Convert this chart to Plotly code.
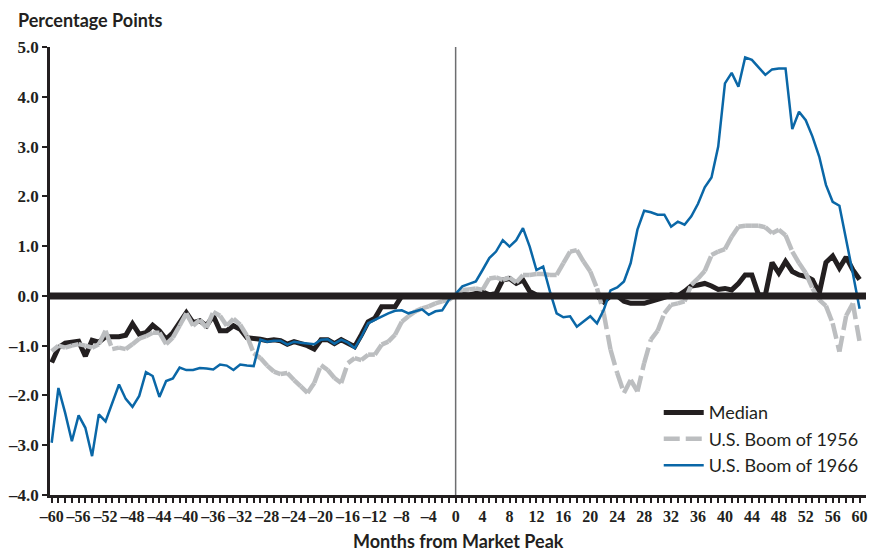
import plotly.graph_objects as go

months = list(range(-60, 61))

median = [
    -1.34, -1.04, -0.95, -0.93, -0.91, -1.21, -0.89, -0.93, -0.82, -0.82,
    -0.82, -0.79, -0.56, -0.77, -0.74, -0.59, -0.70, -0.87, -0.74, -0.54,
    -0.34, -0.54, -0.50, -0.60, -0.40, -0.70, -0.70, -0.60, -0.67, -0.84,
    -0.85, -0.87, -0.90, -0.88, -0.90, -0.97, -0.92, -0.95, -1.00, -1.07,
    -0.88, -0.88, -0.96, -0.88, -0.95, -1.02, -0.78, -0.52, -0.45, -0.22,
    -0.22, -0.22, 0.0, 0.0, 0.0, 0.0, 0.0, 0.0, 0.0, 0.0,
    0.0,
    0.03, 0.02, 0.05, 0.08, 0.02, 0.05, 0.32, 0.35, 0.25, 0.32,
    0.09, 0.02, 0.0, 0.0, 0.0, 0.0, 0.0, 0.0, 0.0, 0.0,
    0.0, -0.12, 0.0, 0.0, -0.11, -0.15, -0.16, -0.15, -0.11, -0.08,
    -0.03, 0.02, 0.0, 0.09, 0.20, 0.22, 0.25, 0.20, 0.13, 0.15,
    0.12, 0.25, 0.42, 0.42, 0.02, 0.02, 0.67, 0.46, 0.69, 0.49,
    0.42, 0.39, 0.32, 0.05, 0.67, 0.80, 0.56, 0.78, 0.52, 0.33,
]

boom_1956 = [
    -1.11, -1.00, -1.04, -1.00, -0.97, -1.00, -1.04, -0.97, -0.70, -1.07,
    -1.04, -1.07, -0.97, -0.86, -0.81, -0.74, -0.74, -0.97, -0.84, -0.60,
    -0.35, -0.60, -0.48, -0.64, -0.32, -0.40, -0.60, -0.46, -0.58, -0.80,
    -1.15, -1.25, -1.40, -1.52, -1.57, -1.55, -1.69, -1.82, -1.95, -1.75,
    -1.39, -1.49, -1.65, -1.75, -1.35, -1.25, -1.29, -1.18, -1.18, -0.98,
    -0.92, -0.78, -0.52, -0.41, -0.31, -0.25, -0.21, -0.15, -0.11, -0.08,
    0.02,
    0.12, 0.13, 0.15, 0.12, 0.35, 0.37, 0.32, 0.37, 0.27, 0.42,
    0.42, 0.44, 0.44, 0.42, 0.42, 0.66, 0.89, 0.92, 0.69, 0.49,
    0.15, -0.35, -1.08, -1.55, -1.95, -1.69, -1.92, -1.35, -0.88, -0.70,
    -0.35, -0.18, -0.15, -0.11, 0.22, 0.35, 0.50, 0.82, 0.89, 0.94,
    1.19, 1.39, 1.41, 1.41, 1.41, 1.38, 1.26, 1.33, 1.22, 0.89,
    0.66, 0.46, 0.15, -0.08, -0.20, -0.55, -1.12, -0.40, -0.15, -0.92,
]

boom_1966 = [
    -2.95, -1.85, -2.35, -2.92, -2.40, -2.65, -3.22, -2.38, -2.52, -2.15,
    -1.78, -2.07, -2.23, -2.01, -1.53, -1.61, -2.03, -1.71, -1.66, -1.44,
    -1.49, -1.49, -1.45, -1.46, -1.48, -1.38, -1.40, -1.49, -1.38, -1.40,
    -1.41, -0.88, -0.92, -0.90, -0.90, -0.98, -0.92, -0.94, -0.95, -0.97,
    -0.88, -0.87, -0.96, -0.88, -0.94, -1.05, -0.82, -0.55, -0.48, -0.41,
    -0.35, -0.30, -0.29, -0.35, -0.31, -0.27, -0.38, -0.31, -0.29, -0.08,
    0.04,
    0.19, 0.24, 0.29, 0.52, 0.76, 0.89, 1.12, 0.99, 1.12, 1.36,
    0.99, 0.52, 0.59, 0.09, -0.35, -0.43, -0.41, -0.62, -0.52, -0.41,
    -0.55, -0.28, 0.11, 0.17, 0.29, 0.66, 1.33, 1.71, 1.68, 1.63,
    1.63, 1.39, 1.49, 1.43, 1.60, 1.85, 2.18, 2.38, 3.00, 4.27,
    4.48, 4.20, 4.79, 4.74, 4.59, 4.44, 4.55, 4.57, 4.57, 3.35,
    3.70, 3.53, 3.20, 2.80, 2.23, 1.89, 1.81, 1.15, 0.45, -0.26,
]

y_ticks = [-4, -3, -2, -1, 0, 1, 2, 3, 4, 5]
y_tick_labels = [("\u2013" if v < 0 else "") + f"{abs(v):.1f}" for v in y_ticks]
x_tick_labels = [(("\u2013" if m < 0 else "") + str(abs(m))) if m % 4 == 0 else "" for m in months]

INK = "#231f20"
GRAY = "#bcbec0"
BLUE = "#0a67a7"

# 1956 series drawn month-to-month so the dash pattern restarts on every segment
seg_x, seg_y = [], []
for i in range(len(months) - 1):
    seg_x += [months[i], months[i + 1], None]
    seg_y += [boom_1956[i], boom_1956[i + 1], None]

fig = go.Figure()
fig.add_trace(go.Scatter(x=months, y=median, mode="lines", name="Median",
                         line=dict(color=INK, width=5), legendgroup="a"))
fig.add_trace(go.Scatter(x=seg_x, y=seg_y, mode="lines", name="U.S. Boom of 1956",
                         connectgaps=False,
                         line=dict(color=GRAY, width=4.5, dash="16px,6px"), legendgroup="b"))
fig.add_trace(go.Scatter(x=months, y=boom_1966, mode="lines", name="U.S. Boom of 1966",
                         line=dict(color=BLUE, width=2.5), legendgroup="c"))

# vertical line at market peak
fig.add_shape(type="line", xref="x", yref="paper", x0=0, x1=0, y0=0, y1=1,
              line=dict(color="#6d6e70", width=1.5), layer="below")
# thick zero line
fig.add_shape(type="line", xref="paper", yref="y", x0=0, x1=1, y0=0, y1=0,
              line=dict(color=INK, width=7), layer="above")

serif = "Liberation Serif, Times New Roman, serif"
x_tick_font = dict(family=serif, size=16, color=INK, weight="bold")
y_tick_font = dict(family=serif, size=17, color=INK, weight="bold")
label_font = dict(family="Lato", size=18, color=INK, weight="bold")

fig.update_layout(
    width=869, height=552,
    margin=dict(l=50, r=3, t=47, b=57, autoexpand=False),
    paper_bgcolor="white", plot_bgcolor="white",
    showlegend=True,
    legend=dict(x=0.746, y=0.225, xanchor="left", yanchor="top",
                font=dict(family="Lato", size=18, color=INK),
                bgcolor="rgba(0,0,0,0)", tracegroupgap=0, itemwidth=40),
    xaxis=dict(range=[-60.25, 60.95], showgrid=False, zeroline=False,
               showline=True, linecolor=INK, linewidth=2.5,
               ticks="outside", ticklen=5, tickwidth=2, tickcolor=INK,
               tickvals=months, ticktext=x_tick_labels, tickfont=x_tick_font,
               tickangle=0, automargin=False, ticklabeloverflow="allow"),
    yaxis=dict(range=[-4, 5], showgrid=False, zeroline=False,
               showline=True, linecolor=INK, linewidth=2.5,
               ticks="outside", ticklen=5, tickwidth=2, tickcolor=INK,
               tickvals=y_ticks, ticktext=y_tick_labels, tickfont=y_tick_font,
               automargin=False, ticklabeloverflow="allow"),
    annotations=[
        dict(text="Percentage Points", xref="paper", yref="paper",
             x=-0.042, y=1.06, xanchor="left", yanchor="middle",
             showarrow=False, font=label_font),
        dict(text="Months from Market Peak", xref="paper", yref="paper",
             x=0.5, y=-0.103, xanchor="center", yanchor="middle",
             showarrow=False, font=label_font),
    ],
)

fig.write_html(
    "out.html",
    config={"displayModeBar": False},
    post_script="document.body.style.margin='0';document.body.style.overflow='hidden';",
)
